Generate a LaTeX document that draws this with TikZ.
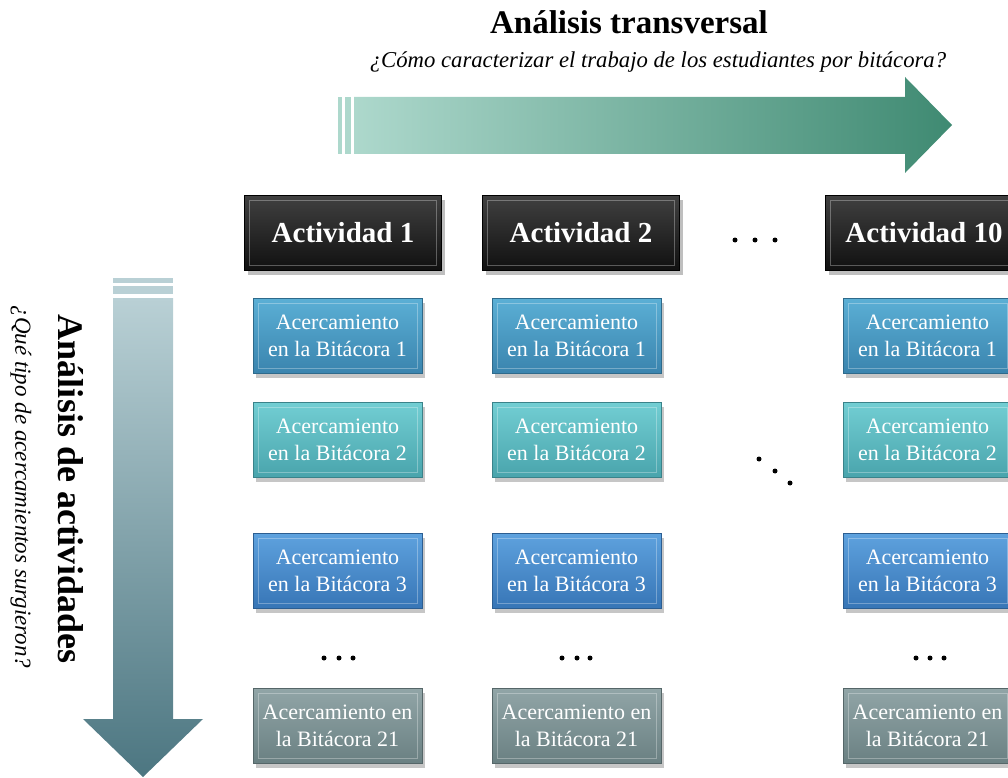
\documentclass[tikz,border=0pt]{standalone}
\usepackage{fontspec}
\setmainfont{Liberation Serif}
\usetikzlibrary{shadows}
\definecolor{hA}{HTML}{404040}
\definecolor{hB}{HTML}{101010}
\definecolor{aT}{HTML}{5BAFD5}
\definecolor{aB}{HTML}{3A84AE}
\definecolor{bT}{HTML}{72CED3}
\definecolor{bB}{HTML}{49A4AC}
\definecolor{cT}{HTML}{5EA2DE}
\definecolor{cB}{HTML}{3775B6}
\definecolor{dT}{HTML}{91A5A7}
\definecolor{dB}{HTML}{6A8082}
\definecolor{arrL}{HTML}{ADD8CC}
\definecolor{arrR}{HTML}{3F8A72}
\definecolor{varT}{HTML}{B9D0D5}
\definecolor{varB}{HTML}{4C7681}
\tikzset{
  bevel/.style={path picture={\draw[white,opacity=0.3,line width=0.8pt]
     ([shift={(5pt,-5pt)}]path picture bounding box.north west) rectangle
     ([shift={(-5pt,5pt)}]path picture bounding box.south east);}},
  card/.style={minimum width=169pt, minimum height=75pt, inner sep=0pt,
     line width=0.6pt, text=white, align=center,
     font=\fontsize{22}{26.5}\selectfont, bevel,
     drop shadow={shadow xshift=3pt,shadow yshift=-4pt,opacity=0.45}},
  head/.style={minimum width=197pt, minimum height=75pt, inner sep=0pt,
     draw=black, line width=0.6pt, top color=hA, bottom color=hB,
     text=white, font=\bfseries\fontsize{29}{32}\selectfont, bevel,
     drop shadow={shadow xshift=3pt,shadow yshift=-4pt,opacity=0.5}},
  rowa/.style={card, draw=aB!80!black, top color=aT, bottom color=aB},
  rowb/.style={card, draw=bB!80!black, top color=bT, bottom color=bB},
  rowc/.style={card, draw=cB!80!black, top color=cT, bottom color=cB},
  rowd/.style={card, draw=dB!80!black, top color=dT, bottom color=dB},
  dot/.style={circle, fill=black, inner sep=0pt, minimum size=5pt},
}
\begin{document}
\begin{tikzpicture}[x=1pt,y=-1pt]
\useasboundingbox (0,0) rectangle (1008,778);
\clip (0,0) rectangle (1008,778);

% top arrow
\fill[arrL] (338,97) rectangle (342,154);
\fill[arrL] (345,97) rectangle (351,154);
\shade[left color=arrL, right color=arrR]
  (354,97) -- (905,97) -- (905,77) -- (952,125) -- (905,173) -- (905,154) -- (354,154) -- cycle;
\node (title) at (629,22) {\bfseries\fontsize{33}{36}\selectfont Análisis transversal};
\node (subtitle) at (658,62) {\itshape\fontsize{22.7}{26}\selectfont ¿Cómo caracterizar el trabajo de los estudiantes por bitácora?};

% left arrow
\fill[varT] (113,278) rectangle (173,283);
\fill[varT] (113,286) rectangle (173,294);
\shade[top color=varT, bottom color=varB]
  (113,298) -- (173,298) -- (173,719) -- (203,719) -- (143,777) -- (83,719) -- (113,719) -- cycle;
\node[rotate=-90] (vtitle) at (71,489) {\bfseries\fontsize{36}{40}\selectfont Análisis de actividades};
\node[rotate=-90] (vsub) at (21,487) {\itshape\fontsize{23}{26}\selectfont ¿Qué tipo de acercamientos surgieron?};

% headers
\node[head] (h1) at (343,233) {Actividad 1};
\node[head] (h2) at (581,233) {Actividad 2};
\node[head] (h3) at (924,233) {Actividad 10};
\node[dot] (hd1) at (735,240) {};
\node[dot] (hd2) at (755,240) {};
\node[dot] (hd3) at (775,240) {};

% column 1
\node[rowa] (a1) at (337.5,336) {Acercamiento\\en la Bitácora 1};
\node[rowb] (b1) at (337.5,440) {Acercamiento\\en la Bitácora 2};
\node[rowc] (c1) at (337.5,571) {Acercamiento\\en la Bitácora 3};
\node[rowd] (d1) at (337.5,726) {Acercamiento en\\la Bitácora 21};
% column 2
\node[rowa] (a2) at (576.5,336) {Acercamiento\\en la Bitácora 1};
\node[rowb] (b2) at (576.5,440) {Acercamiento\\en la Bitácora 2};
\node[rowc] (c2) at (576.5,571) {Acercamiento\\en la Bitácora 3};
\node[rowd] (d2) at (576.5,726) {Acercamiento en\\la Bitácora 21};
% column 3
\node[rowa] (a3) at (927.5,336) {Acercamiento\\en la Bitácora 1};
\node[rowb] (b3) at (927.5,440) {Acercamiento\\en la Bitácora 2};
\node[rowc] (c3) at (927.5,571) {Acercamiento\\en la Bitácora 3};
\node[rowd] (d3) at (927.5,726) {Acercamiento en\\la Bitácora 21};

% dots rows
\node[dot] (r1a) at (324,658) {};
\node[dot] (r1b) at (339,658) {};
\node[dot] (r1c) at (353,658) {};
\node[dot] (r2a) at (562,658) {};
\node[dot] (r2b) at (577,658) {};
\node[dot] (r2c) at (590,658) {};
\node[dot] (r3a) at (916,658) {};
\node[dot] (r3b) at (930,658) {};
\node[dot] (r3c) at (944,658) {};
% diagonal dots
\node[dot] (g1) at (759,459) {};
\node[dot] (g2) at (775,471) {};
\node[dot] (g3) at (790,483) {};
\end{tikzpicture}
\end{document}
